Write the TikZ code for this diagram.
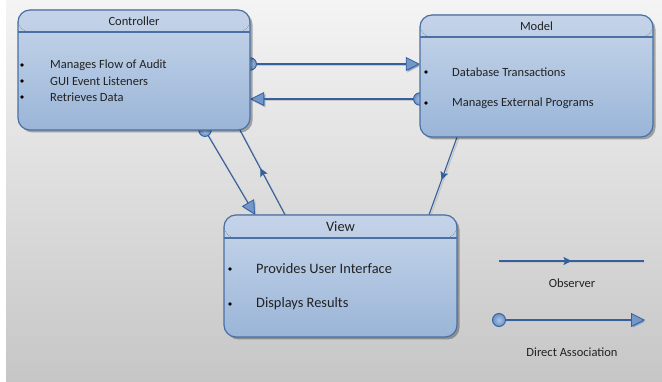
\documentclass[tikz,border=0pt]{standalone}
\usepackage{fontspec}
\setmainfont{Carlito}
\usetikzlibrary{arrows.meta,shadows,decorations.markings,calc}

\definecolor{bgtop}{HTML}{F4F4F4}
\definecolor{bgbot}{HTML}{C6C6C6}
\definecolor{bodytop}{HTML}{C7D6EA}
\definecolor{bodybot}{HTML}{9AB5D8}
\definecolor{headtop}{HTML}{C4D3E8}
\definecolor{headbot}{HTML}{A7BEDD}
\definecolor{boxedge}{HTML}{4A70A4}
\definecolor{linecol}{HTML}{35609B}
\definecolor{assocfill}{HTML}{7297CA}
\definecolor{dotin}{HTML}{ADC4E6}
\definecolor{dotout}{HTML}{6A90C6}
\definecolor{txt}{HTML}{222222}

\begin{document}
\begin{tikzpicture}[x=1pt,y=-1pt,
  umlbox/.style={rectangle, rounded corners=12pt, draw=boxedge, line width=1.2pt,
    top color=bodytop, bottom color=bodybot, inner sep=0pt,
    drop shadow={shadow xshift=2.5pt, shadow yshift=-2.5pt, opacity=0.3, fill=black},
    path picture={
      \fill[top color=headtop, bottom color=headbot]
        (path picture bounding box.north west) rectangle
        ([yshift=-#1]path picture bounding box.north east);
      \draw[boxedge, line width=1.2pt]
        ([yshift=-#1]path picture bounding box.north west) --
        ([yshift=-#1]path picture bounding box.north east);}},
  title/.style={font=\fontsize{12.5}{14}\selectfont, text=txt},
  item/.style={anchor=west, font=\fontsize{12.5}{14}\selectfont, text=txt, inner sep=0pt},
  bigtitle/.style={font=\fontsize{14.4}{16}\selectfont, text=txt},
  bigitem/.style={anchor=west, font=\fontsize{14.4}{16}\selectfont, text=txt, inner sep=0pt},
  bul/.style={circle, fill=black, inner sep=0pt, minimum size=3.6pt},
  conn/.style={draw=linecol, line width=1.1pt,
    preaction={draw=black!22, line width=1.4pt, transform canvas={shift={(1.4pt,-1.6pt)}}}},
  assoc/.style={conn, -{Triangle[length=14pt, width=14pt, fill=assocfill, line width=0.8pt]}},
  assocdot/.style={circle, draw=linecol, line width=0.9pt, inner sep=0pt,
    minimum size=12.5pt, inner color=dotin, outer color=dotout},
  observer/.style={conn, postaction={decorate},
    decoration={markings, mark=at position #1 with {\arrow[linecol]{Stealth[length=8pt, width=8pt, inset=1.5pt]}}}},
  observer/.default=0.55,
  legend/.style={font=\fontsize{12.5}{14}\selectfont, text=txt}
]
\useasboundingbox (0,0) rectangle (662,382);
% background panel
\shade[top color=bgtop, bottom color=bgbot] (6,0) rectangle (662,382);

% box frames are placed first (no drawing) so that connectors can refer to them
\path (134,70) node[minimum width=232pt, minimum height=120pt, inner sep=0pt] (ctrl) {};
\path (536.5,76) node[minimum width=233pt, minimum height=122pt, inner sep=0pt] (model) {};
\path (340.5,276) node[minimum width=233pt, minimum height=122pt, inner sep=0pt] (view) {};

% connector end points on the box borders
\coordinate (cm1) at (ctrl.east |- 0,64);
\coordinate (mc1) at (model.west |- 0,64);
\coordinate (mc2) at (model.west |- 0,99);
\coordinate (cm2) at (ctrl.east |- 0,99);
\coordinate (cv1) at (ctrl.south -| 205,0);
\coordinate (vc1) at (view.north -| 255,0);
\coordinate (vc2) at (view.north -| 285,0);
\coordinate (cv2) at (ctrl.south -| 240,0);
\coordinate (mv1) at (model.south -| 457,0);
\coordinate (vm1) at (view.north -| 429,0);

% connectors
\draw[assoc] (cm1) -- (mc1);
\node[assocdot] (d1) at (cm1) {};
\draw[assoc] (mc2) -- (cm2);
\node[assocdot] (d2) at (mc2) {};
\draw[assoc] (cv1) -- (vc1);
\node[assocdot] (d3) at (cv1) {};
\draw[observer] (vc2) -- (cv2);
\draw[observer] (mv1) -- (vm1);

% boxes
\node[umlbox=22pt, minimum width=232pt, minimum height=120pt] (ctrlbox) at (ctrl) {};
\node[umlbox=22pt, minimum width=233pt, minimum height=122pt] (modelbox) at (model) {};
\node[umlbox=23pt, minimum width=233pt, minimum height=122pt] (viewbox) at (view) {};

% Controller
\node[title] (ctrl-t) at (134,21) {Controller};
\node[bul] (cb1) at (22,65) {};
\node[bul] (cb2) at (22,81) {};
\node[bul] (cb3) at (22,97) {};
\node[item] (ci1) at (50,65) {Manages Flow of Audit};
\node[item] (ci2) at (50,81) {GUI Event Listeners};
\node[item] (ci3) at (50,97) {Retrieves Data};

% Model
\node[title] (model-t) at (536.5,26) {Model};
\node[bul] (mb1) at (426,72) {};
\node[bul] (mb2) at (426,103) {};
\node[item] (mi1) at (452,72) {Database Transactions};
\node[item] (mi2) at (452,103) {Manages External Programs};

% View
\node[bigtitle] (view-t) at (340.5,227) {View};
\node[bul] (vb1) at (230,269) {};
\node[bul] (vb2) at (230,304) {};
\node[bigitem] (vi1) at (256,269) {Provides User Interface};
\node[bigitem] (vi2) at (256,304) {Displays Results};

% legend
\coordinate (lo1) at (499,261);
\coordinate (lo2) at (644,261);
\draw[observer=0.5] (lo1) -- (lo2);
\node[legend] (lo-t) at (572,283) {Observer};
\coordinate (ld1) at (499,320);
\coordinate (ld2) at (645,320);
\draw[assoc] (ld1) -- (ld2);
\node[assocdot, minimum size=13pt] (ld-dot) at (ld1) {};
\node[legend] (ld-t) at (572,352) {Direct Association};
\end{tikzpicture}
\end{document}
